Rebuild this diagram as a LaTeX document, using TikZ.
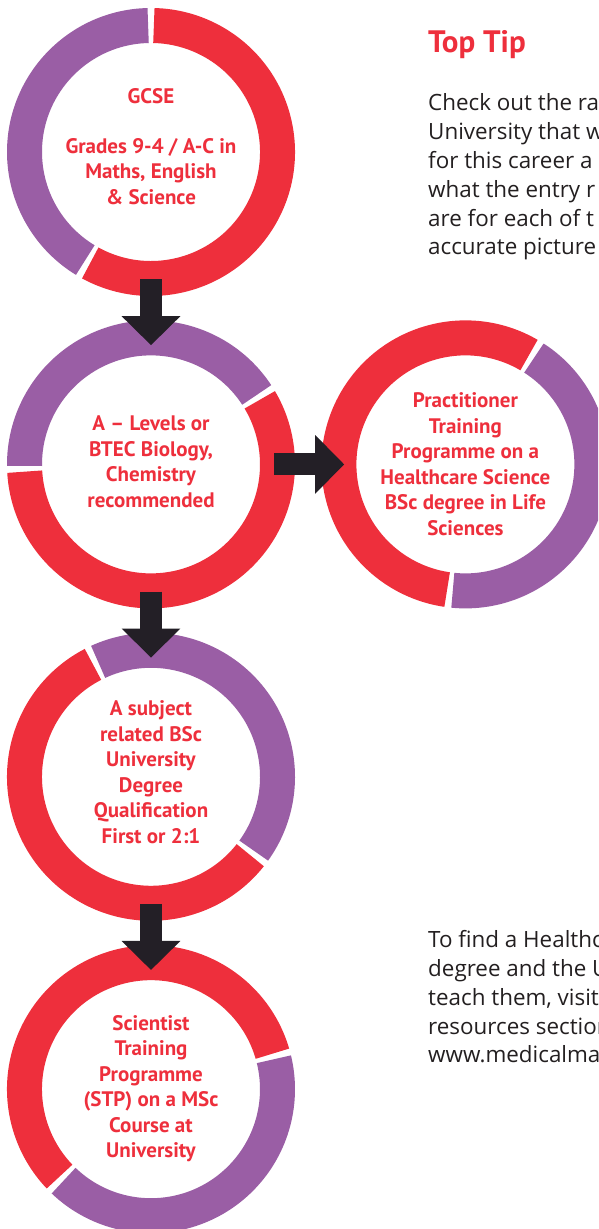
\documentclass[tikz,border=0pt]{standalone}
\usepackage{fontspec}
\usepackage{tikz}
\usetikzlibrary{arrows.meta, positioning, calc}

\newfontfamily\stagefont{PT Sans}
\newfontfamily\tipfont{Open Sans}

\definecolor{ringred}{RGB}{238,47,60}
\definecolor{ringpurple}{RGB}{154,94,165}
\definecolor{arrowdark}{RGB}{35,31,38}
\definecolor{tiptext}{RGB}{35,31,32}

% one coloured part of the ring round a stage
\newcommand{\ringpart}[4]{%
  \draw[#2, line width=35pt]
    ($(#1)+(#3+1.3:126.5pt)$) arc[start angle=#3+1.3, end angle=#4-1.3, radius=126.5pt];}

\begin{document}
\begin{tikzpicture}[
      x=1pt, y=1pt,
      node distance = 94pt,
      stage/.style = {circle, fill=white, minimum size=218pt, inner sep=0pt,
                      align=center, text=ringred,
                      font=\stagefont\bfseries\fontsize{21}{25.5}\selectfont},
      bigarrow/.style = {arrowdark, line width=22pt,
                         -{Triangle[width=57pt, length=29pt]}},
      tipbody/.style = {anchor=base west, align=left, inner sep=0pt, text=tiptext,
                        font=\tipfont\fontsize{22.4}{28.8}\selectfont}
      ]
      \useasboundingbox (0,0) rectangle (598,1229);
      \clip (0,0) rectangle (598,1229);

      % Define stages
      \node[stage] (gcse) at (151,1077) {GCSE\\[24.5pt]Grades 9-4 / A-C in\\Maths, English\\\& Science\\[-14pt]};
      \node[stage] (alevel) [below=of gcse] {A – Levels or\\BTEC Biology,\\Chemistry\\recommended\\[-20pt]};
      \node[stage] (ptp) [right=of alevel] {Practitioner\\Training\\Programme on a\\Healthcare Science\\BSc degree in Life\\Sciences};
      \node[stage] (bsc) [below=of alevel] {A subject\\related BSc\\University\\Degree\\Qualification\\First or 2:1\\[-16pt]};
      \node[stage] (stp) [below=of bsc] {Scientist\\Training\\Programme\\(STP) on a MSc\\Course at\\University\\[-20pt]};

      % Rings
      \ringpart{gcse}{ringpurple}{90}{240}
      \ringpart{gcse}{ringred}{240}{450}
      \ringpart{alevel}{ringpurple}{32}{182}
      \ringpart{alevel}{ringred}{182}{392}
      \ringpart{ptp}{ringred}{58.5}{263}
      \ringpart{ptp}{ringpurple}{263}{418.5}
      \ringpart{bsc}{ringpurple}{-37}{116}
      \ringpart{bsc}{ringred}{116}{323}
      \ringpart{stp}{ringred}{15}{225}
      \ringpart{stp}{ringpurple}{225}{375}

      % Define transitions
      \draw[bigarrow, shorten <=18pt, shorten >=10pt] (gcse) -- (alevel);
      \draw[bigarrow, shorten <=14pt, shorten >=10pt] (alevel) -- (ptp);
      \draw[bigarrow, shorten <=18pt, shorten >=10pt] (alevel) -- (bsc);
      \draw[bigarrow, shorten <=18pt, shorten >=10pt] (bsc) -- (stp);

      % Side notes
      \node[anchor=base west, inner sep=0pt, text=ringred,
            font=\stagefont\bfseries\fontsize{31}{33}\selectfont] (toptip) at (428,1176) {Top Tip};
      \node[tipbody] (tiptop) at (428,974) {Check out the ra\\University that w\\for this career a\\what the entry r\\are for each of t\\accurate picture};
      \node[tipbody] (tipbottom) at (428,166) {To find a Healthc\\degree and the U\\teach them, visit\\resources section\\www.medicalma};

\end{tikzpicture}
\end{document}
